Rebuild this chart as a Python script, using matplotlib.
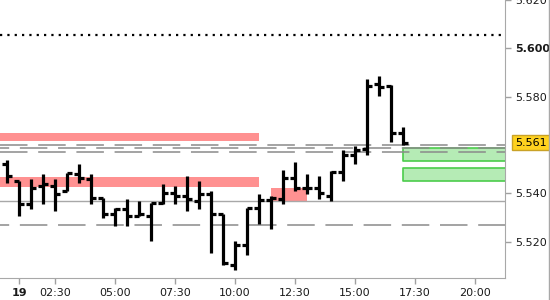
import matplotlib.pyplot as plt
from matplotlib.lines import Line2D
from matplotlib.transforms import blended_transform_factory

# half-hour OHLC bars (time in hours of the session)
times = [0.5, 1.0, 1.5, 2.0, 2.5, 3.0, 3.5, 4.0, 4.5, 5.0, 5.5, 6.0,
         6.5, 7.0, 7.5, 8.0, 8.5, 9.0, 9.5, 10.0, 10.5, 11.0, 11.5, 12.0,
         12.5, 13.0, 13.5, 14.0, 14.5, 15.0, 15.5, 16.0, 16.5, 17.0]
opens = [5.5519, 5.5449, 5.5355, 5.5429, 5.5429, 5.5408, 5.5478, 5.5457, 5.5380, 5.5315, 5.5335, 5.5306,
         5.5306, 5.5360, 5.5400, 5.5388, 5.5368, 5.5396, 5.5315, 5.5102, 5.5184, 5.5339, 5.5372, 5.5376,
         5.5462, 5.5421, 5.5421, 5.5388, 5.5486, 5.5560, 5.5584, 5.5853, 5.5845, 5.5649]
highs = [5.5539, 5.5449, 5.5457, 5.5478, 5.5457, 5.5482, 5.5519, 5.5478, 5.5380, 5.5339, 5.5376, 5.5368,
         5.5360, 5.5437, 5.5429, 5.5470, 5.5449, 5.5408, 5.5315, 5.5204, 5.5339, 5.5396, 5.5388, 5.5498,
         5.5531, 5.5478, 5.5470, 5.5490, 5.5580, 5.5596, 5.5874, 5.5886, 5.5849, 5.5674]
lows = [5.5441, 5.5306, 5.5335, 5.5355, 5.5327, 5.5408, 5.5441, 5.5355, 5.5298, 5.5266, 5.5266, 5.5306,
        5.5204, 5.5355, 5.5355, 5.5327, 5.5335, 5.5151, 5.5102, 5.5082, 5.5143, 5.5274, 5.5253, 5.5355,
        5.5408, 5.5396, 5.5376, 5.5368, 5.5449, 5.5523, 5.5560, 5.5804, 5.5613, 5.5600]
closes = [5.5470, 5.5355, 5.5421, 5.5437, 5.5396, 5.5482, 5.5462, 5.5380, 5.5315, 5.5335, 5.5306, 5.5315,
          5.5360, 5.5400, 5.5388, 5.5376, 5.5396, 5.5315, 5.5111, 5.5184, 5.5339, 5.5372, 5.5380, 5.5462,
          5.5421, 5.5421, 5.5400, 5.5486, 5.5560, 5.5580, 5.5845, 5.5841, 5.5649, 5.5608]

# supply / demand zones: start, end, low, high
red_zones = [(0.0, 11.0, 5.5617, 5.5649),
             (0.0, 11.0, 5.5425, 5.5466),
             (11.5, 13.0, 5.5368, 5.5421)]
green_zones = [(17.0, 22.0, 5.5535, 5.5588),
               (17.0, 22.0, 5.5449, 5.5506)]

dotted_level = 5.6057
solid_level = 5.5368
dashed_levels = [5.5600, 5.5588, 5.5571, 5.5270]
last_price = 5.561

tick_times = [1.0, 2.5, 5.0, 7.5, 10.0, 12.5, 15.0, 17.5, 20.0]
tick_names = ["19", "02:30", "05:00", "07:30", "10:00", "12:30", "15:00", "17:30", "20:00"]
price_ticks = [5.52, 5.54, 5.58, 5.60, 5.62]


fig = plt.figure(figsize=(5.5, 3.0), dpi=100)
ax = fig.add_axes([0.0, 22 / 300, 505 / 550, 278 / 300])

for z in red_zones:
	ax.fill_between([z[0], z[1]], z[2], z[3], color="#ff9191", lw=0, zorder=1)
for z in green_zones:
	ax.fill_between([z[0], z[1]], z[2], z[3], facecolor="#b5ebb5", edgecolor="#4ccc4c", lw=1.2, zorder=1)

ax.axhline(dotted_level, color="black", lw=1.6, linestyle=(0, (1, 2.3)), zorder=2)
ax.axhline(solid_level, color="#a8a8a8", lw=1, zorder=2)
offs = [0, 12, 0, 12]
for lev, o in zip(dashed_levels, offs):
	ax.axhline(lev, color="#8a8a8a", lw=1.1, linestyle=(o, (18, 7)), zorder=2)

# bars
hw = 0.22
ax.vlines(times, lows, highs, color="black", lw=2.3, zorder=5)
ax.hlines(opens, [t - hw for t in times], times, color="black", lw=2.3, zorder=5)
ax.hlines(closes, times, [t + hw for t in times], color="black", lw=2.3, zorder=5)

ax.set_xlim(0.2083, 21.25)
ax.set_ylim(5.5049, 5.6184)

ax.set_xticks(tick_times)
ax.set_xticklabels(tick_names, fontsize=8, color="#1a1a1a")
ax.get_xticklabels()[0].set_fontweight("bold")
ax.yaxis.tick_right()
ax.set_yticks(price_ticks)
ax.set_yticklabels(["%.3f" % p for p in price_ticks], fontsize=8, color="#1a1a1a")
for lab in ax.get_yticklabels():
	if lab.get_text() == "5.600":
		lab.set_fontweight("bold")
ax.tick_params(axis="both", colors="#a0a0a0", labelcolor="#1a1a1a", length=4, width=1)
ax.tick_params(axis="y", pad=3)

for s in ["top", "left"]:
	ax.spines[s].set_visible(False)
for s in ["right", "bottom"]:
	ax.spines[s].set_color("#a8a8a8")

tr = blended_transform_factory(ax.transAxes, ax.transData)
ax.text(1.02, last_price, "%.3f" % last_price, transform=tr, fontsize=8, va="center", ha="left",
	color="black", bbox=dict(boxstyle="square,pad=0.25", fc="#ffd21f", ec="#c9a227", lw=1), zorder=10)

fig.add_artist(Line2D([548.5 / 550, 548.5 / 550], [0, 1], transform=fig.transFigure, color="#a8a8a8", lw=1))

fig.savefig("out.png", dpi=100)
